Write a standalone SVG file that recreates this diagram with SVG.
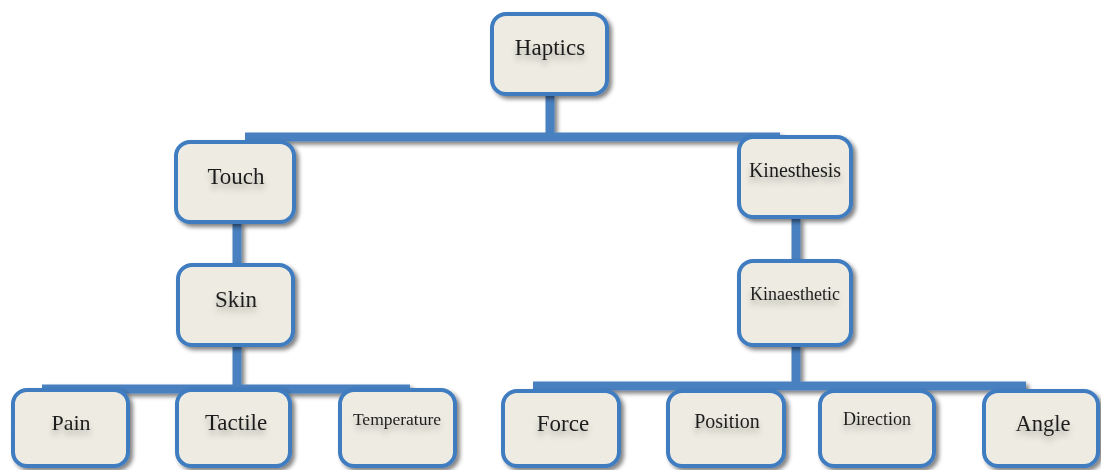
<svg xmlns="http://www.w3.org/2000/svg" width="1101" height="470" viewBox="0 0 1101 470">
<defs>
<filter id="sh" x="-10%" y="-10%" width="130%" height="130%">
<feGaussianBlur in="SourceAlpha" stdDeviation="2"/>
<feOffset dx="3" dy="3" result="b"/>
<feComponentTransfer><feFuncA type="linear" slope="0.5"/></feComponentTransfer>
<feMerge><feMergeNode/><feMergeNode in="SourceGraphic"/></feMerge>
</filter>
<filter id="ts" x="-20%" y="-40%" width="140%" height="200%">
<feGaussianBlur in="SourceAlpha" stdDeviation="3"/>
<feOffset dx="0" dy="5"/>
<feComponentTransfer><feFuncA type="linear" slope="0.3"/></feComponentTransfer>
<feMerge><feMergeNode/><feMergeNode in="SourceGraphic"/></feMerge>
</filter>
</defs>
<style>
.box{fill:#eeece2;stroke:#3f7cc0;stroke-width:4}
.t{font-family:"Liberation Serif","Times New Roman",serif;fill:#1e1e1e;text-anchor:middle}
.c{stroke:#4a80bf;stroke-width:9;fill:none;stroke-linecap:butt}
</style>
<rect width="1101" height="470" fill="#ffffff"/>
<g id="connectors" filter="url(#sh)">
<line class="c" x1="550" y1="95" x2="550" y2="137"/>
<line class="c" x1="245" y1="137" x2="780" y2="137"/>
<line class="c" x1="237" y1="222" x2="237" y2="266"/>
<line class="c" x1="237" y1="345" x2="237" y2="389"/>
<line class="c" x1="42" y1="389" x2="410" y2="389"/>
<line class="c" x1="796" y1="218" x2="796" y2="262"/>
<line class="c" x1="796" y1="345" x2="796" y2="386"/>
<line class="c" x1="533" y1="386" x2="1026" y2="386"/>
</g>
<g id="haptics" filter="url(#sh)"><rect class="box" x="492" y="14" width="115" height="80" rx="14"/></g>
<g id="touch" filter="url(#sh)"><rect class="box" x="176" y="142" width="118" height="80" rx="14"/></g>
<g id="kinesthesis" filter="url(#sh)"><rect class="box" x="739" y="137" width="112" height="80" rx="14"/></g>
<g id="skin" filter="url(#sh)"><rect class="box" x="178" y="265" width="115" height="80" rx="14"/></g>
<g id="kinaesthetic" filter="url(#sh)"><rect class="box" x="739" y="261" width="112" height="84" rx="14"/></g>
<g id="pain" filter="url(#sh)"><rect class="box" x="13" y="390" width="115" height="76" rx="14"/></g>
<g id="tactile" filter="url(#sh)"><rect class="box" x="177" y="390" width="113" height="76" rx="14"/></g>
<g id="temperature" filter="url(#sh)"><rect class="box" x="340" y="390" width="115" height="76" rx="14"/></g>
<g id="force" filter="url(#sh)"><rect class="box" x="503" y="391" width="116" height="75" rx="14"/></g>
<g id="position" filter="url(#sh)"><rect class="box" x="668" y="391" width="116" height="75" rx="14"/></g>
<g id="direction" filter="url(#sh)"><rect class="box" x="820" y="391" width="114" height="75" rx="14"/></g>
<g id="angle" filter="url(#sh)"><rect class="box" x="984" y="391" width="114" height="75" rx="14"/></g>
<g id="labels" filter="url(#ts)">
<text class="t" x="550" y="55" font-size="23">Haptics</text>
<text class="t" x="236" y="184" font-size="23">Touch</text>
<text class="t" x="795" y="177" font-size="20">Kinesthesis</text>
<text class="t" x="236" y="307" font-size="23">Skin</text>
<text class="t" x="795" y="300" font-size="18">Kinaesthetic</text>
<text class="t" x="71" y="430" font-size="22">Pain</text>
<text class="t" x="236" y="430" font-size="23">Tactile</text>
<text class="t" x="397" y="425" font-size="17.5">Temperature</text>
<text class="t" x="563" y="431" font-size="23">Force</text>
<text class="t" x="727" y="428" font-size="20">Position</text>
<text class="t" x="877" y="425" font-size="18">Direction</text>
<text class="t" x="1043" y="431" font-size="22.5">Angle</text>
</g>
</svg>
